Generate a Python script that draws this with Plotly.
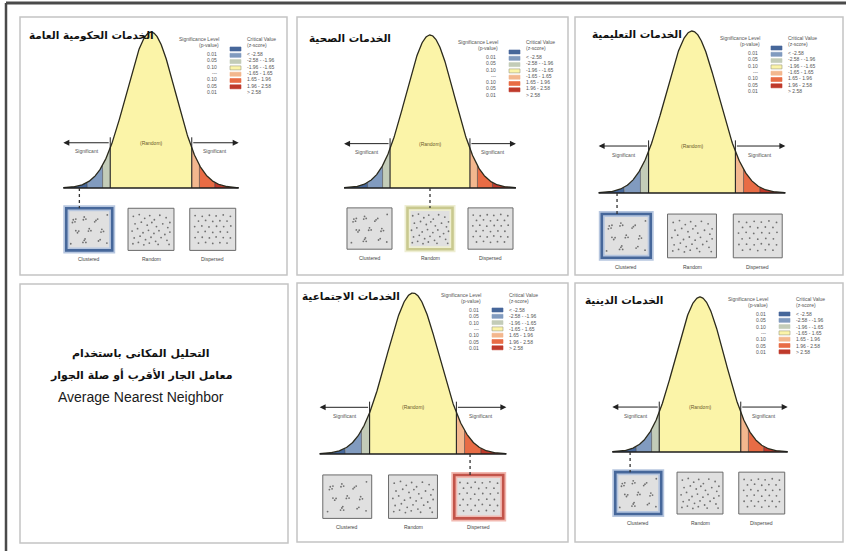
import numpy as np
import plotly.graph_objects as go

W, H = 846, 551

# ---- data -------------------------------------------------------------
# critical z-score breaks of the normal curve and the band colours between them
z_breaks = [-2.58, -1.96, -1.65, 1.65, 1.96, 2.58]
band_colors = ["#46679a", "#819bbf", "#c3ccb8", "#fbf4a8", "#f3b78e", "#e86c45", "#bf3a2b"]
p_labels = ["0.01", "0.05", "0.10", "---", "0.10", "0.05", "0.01"]
z_labels = ["< -2.58", "-2.58 - -1.96", "-1.96 - -1.65", "-1.65 - 1.65",
            "1.65 - 1.96", "1.96 - 2.58", "> 2.58"]
pattern_names = ["Clustered", "Random", "Dispersed"]

# one panel per service type, with the pattern found and its z position
titles = ["الخدمات الحكومية العامة", "الخدمات الصحية", "الخدمات التعليمية",
          "الخدمات الاجتماعية", "الخدمات الدينية"]
results = ["Clustered", "Random", "Clustered", "Dispersed", "Clustered"]
result_z = [-2.9, 0.0, -2.85, 2.17, -2.83]

# sample point patterns (unit square) shown in the three boxes
clustered_u = [0.12, 0.16, 0.10, 0.18, 0.38, 0.42, 0.36, 0.66, 0.70, 0.63, 0.22, 0.18, 0.25,
               0.50, 0.54, 0.48, 0.80, 0.84, 0.78, 0.38, 0.42, 0.35, 0.40, 0.72, 0.76,
               0.93, 0.06, 0.92]
clustered_v = [0.78, 0.72, 0.70, 0.80, 0.86, 0.80, 0.78, 0.76, 0.80, 0.72, 0.40, 0.46, 0.45,
               0.52, 0.46, 0.45, 0.50, 0.44, 0.42, 0.18, 0.12, 0.12, 0.22, 0.16, 0.20,
               0.92, 0.08, 0.10]
random_u = [0.08, 0.22, 0.35, 0.47, 0.58, 0.71, 0.86, 0.95, 0.12, 0.27, 0.41, 0.52, 0.63, 0.78,
            0.90, 0.05, 0.18, 0.31, 0.44, 0.57, 0.69, 0.83, 0.95, 0.10, 0.24, 0.37, 0.50,
            0.61, 0.74, 0.88, 0.07, 0.20, 0.33, 0.46, 0.67, 0.93]
random_v = [0.88, 0.93, 0.82, 0.90, 0.78, 0.91, 0.84, 0.70, 0.66, 0.71, 0.62, 0.70, 0.58, 0.66,
            0.55, 0.45, 0.52, 0.40, 0.47, 0.38, 0.46, 0.35, 0.42, 0.25, 0.30, 0.20, 0.27,
            0.15, 0.26, 0.18, 0.08, 0.12, 0.05, 0.10, 0.06, 0.06]
dispersed_u = [0.08, 0.25, 0.42, 0.58, 0.75, 0.92, 0.16, 0.33, 0.50, 0.67, 0.84,
               0.07, 0.24, 0.41, 0.59, 0.76, 0.93, 0.15, 0.32, 0.50, 0.68, 0.85,
               0.08, 0.25, 0.42, 0.58, 0.75, 0.92, 0.16, 0.33, 0.50, 0.67, 0.84]
dispersed_v = [0.90, 0.88, 0.91, 0.89, 0.92, 0.88, 0.74, 0.76, 0.73, 0.75, 0.74,
               0.58, 0.60, 0.57, 0.59, 0.58, 0.60, 0.42, 0.44, 0.41, 0.43, 0.42,
               0.26, 0.27, 0.25, 0.28, 0.26, 0.25, 0.10, 0.12, 0.09, 0.11, 0.10]
patterns = [(clustered_u, clustered_v), (random_u, random_v), (dispersed_u, dispersed_v)]

intro_lines = ["التحليل المكانى باستخدام", "معامل الجار الأقرب أو صلة الجوار",
               "Average Nearest Neighbor"]

# ---- page geometry (pixels) -------------------------------------------
PANELS = [
    dict(rect=(20, 17, 287, 275), cx=151, sigma=24.7, base=188, peak=32, title_x=27),
    dict(rect=(297, 17, 568, 275), cx=430, sigma=24.2, base=188, peak=35, title_x=307),
    dict(rect=(575, 17, 843, 275), cx=692, sigma=26.3, base=193, peak=31, title_x=590),
    dict(rect=(297, 283, 568, 542), cx=413, sigma=26.3, base=454, peak=293, title_x=300),
    dict(rect=(575, 283, 843, 542), cx=700, sigma=24.7, base=452, peak=297, title_x=583),
]
TEXT_PANEL = (20, 284, 288, 543)
Z_END = 3.55
BOX_CENTERS = [-2.5, 0.0, 2.5]
BOX_HALF = 0.93
BOX_TOP, BOX_BOTTOM = -0.13, -0.40
ARROW_Y = 0.29
FONT = "DejaVu Sans"
SMALL = dict(family="Liberation Sans", size=5, color="#555555")

HIGHLIGHT = {
    "Clustered": ("#46679a", "#b6c6df"),
    "Random": ("#c9c98f", "#eeeed2"),
    "Dispersed": ("#c2544a", "#f2b9b1"),
}


def px(x, y):
    """pixel position -> paper coordinates"""
    return x / W, 1 - y / H


def density(z):
    # standard normal curve, scaled so the peak is 1
    return np.exp(-0.5 * np.asarray(z, dtype=float) ** 2)


fig = go.Figure()
shapes, annotations, axes = [], [], {}

for i, g in enumerate(PANELS):
    sx = "" if i == 0 else str(i + 1)
    xr, yr = f"x{sx}", f"y{sx}"
    l, t, r, b = g["rect"]
    cx, sg, base, peak = g["cx"], g["sigma"], g["base"], g["peak"]
    hgt = base - peak
    axes[f"xaxis{sx}"] = dict(domain=[l / W, r / W], range=[(l - cx) / sg, (r - cx) / sg],
                              visible=False, anchor=yr, fixedrange=True)
    axes[f"yaxis{sx}"] = dict(domain=[1 - b / H, 1 - t / H],
                              range=[(base - b) / hgt, (base - t) / hgt],
                              visible=False, anchor=xr, fixedrange=True)

    # panel frame
    shapes.append(dict(type="rect", xref="paper", yref="paper",
                       x0=px(l, t)[0], y0=px(l, t)[1], x1=px(r, b)[0], y1=px(r, b)[1],
                       line=dict(color="#c4c4c4", width=1.5), layer="below"))

    # coloured bands under the curve
    edges = [-Z_END] + z_breaks + [Z_END]
    for k in range(len(band_colors)):
        zz = np.linspace(edges[k], edges[k + 1], 60)
        fig.add_trace(go.Scatter(
            x=np.concatenate([[edges[k]], zz, [edges[k + 1]]]),
            y=np.concatenate([[0], density(zz), [0]]),
            fill="toself", fillcolor=band_colors[k], mode="lines", line=dict(width=0),
            xaxis=xr, yaxis=yr, hoverinfo="skip", showlegend=False))
    # break lines
    for zb in z_breaks:
        strong = abs(zb) == 1.65
        fig.add_trace(go.Scatter(
            x=[zb, zb], y=[0, float(density(zb))], mode="lines",
            line=dict(color="#222222" if strong else "#3c3c3c", width=1.1 if strong else 0.6),
            xaxis=xr, yaxis=yr, hoverinfo="skip", showlegend=False))
    # outline and baseline
    zc = np.linspace(-Z_END, Z_END, 400)
    fig.add_trace(go.Scatter(x=zc, y=density(zc), mode="lines",
                             line=dict(color="#2b2a1c", width=1.3),
                             xaxis=xr, yaxis=yr, hoverinfo="skip", showlegend=False))
    fig.add_trace(go.Scatter(x=[-Z_END, Z_END], y=[0, 0], mode="lines",
                             line=dict(color="#1e1e1e", width=1.3),
                             xaxis=xr, yaxis=yr, hoverinfo="skip", showlegend=False))

    # significance arrows
    for side in (-1, 1):
        annotations.append(dict(x=side * Z_END, y=ARROW_Y, ax=side * 1.65, ay=ARROW_Y,
                                xref=xr, yref=yr, axref=xr, ayref=yr, text="",
                                showarrow=True, arrowhead=2, arrowsize=1.2, arrowwidth=1,
                                arrowcolor="#222222"))
        shapes.append(dict(type="line", xref=xr, yref=yr, x0=side * 1.65, x1=side * 1.65,
                           y0=ARROW_Y - 0.035, y1=ARROW_Y + 0.035,
                           line=dict(color="#222222", width=1)))
        annotations.append(dict(x=side * 2.6, y=ARROW_Y - 0.055, xref=xr, yref=yr,
                                xanchor="center", text="Significant", showarrow=False,
                                font=SMALL))
    annotations.append(dict(x=0, y=ARROW_Y, xref=xr, yref=yr, text="(Random)",
                            xanchor="center", showarrow=False,
                            font=dict(family="Liberation Sans", size=5, color="#6b5a2a")))

    # pattern boxes
    for j, (c, name) in enumerate(zip(BOX_CENTERS, pattern_names)):
        x0, x1 = c - BOX_HALF, c + BOX_HALF
        if results[i] == name:
            edge, glow = HIGHLIGHT[name]
            shapes.append(dict(type="rect", xref=xr, yref=yr, x0=x0, x1=x1,
                               y0=BOX_BOTTOM, y1=BOX_TOP, fillcolor="#e0e0e0",
                               line=dict(color=glow, width=6), layer="below"))
            shapes.append(dict(type="rect", xref=xr, yref=yr, x0=x0, x1=x1,
                               y0=BOX_BOTTOM, y1=BOX_TOP,
                               line=dict(color=edge, width=2.6)))
        else:
            shapes.append(dict(type="rect", xref=xr, yref=yr, x0=x0, x1=x1,
                               y0=BOX_BOTTOM, y1=BOX_TOP, fillcolor="#e0e0e0",
                               line=dict(color="#6a6a6a", width=1), layer="below"))
        pu, pv = patterns[j]
        pad_x, pad_y = 0.08, 0.025
        fig.add_trace(go.Scatter(
            x=[x0 + pad_x + u * (x1 - x0 - 2 * pad_x) for u in pu],
            y=[BOX_BOTTOM + pad_y + v * (BOX_TOP - BOX_BOTTOM - 2 * pad_y) for v in pv],
            mode="markers", marker=dict(size=1.8, color="#707070"),
            xaxis=xr, yaxis=yr, hoverinfo="skip", showlegend=False))
        annotations.append(dict(x=c, y=BOX_BOTTOM - 0.055, xref=xr, yref=yr, text=name,
                                xanchor="center", showarrow=False,
                                font=dict(family="Liberation Sans", size=5, color="#444444")))

    # dotted connector from the observed z to its pattern box
    shapes.append(dict(type="line", xref=xr, yref=yr, x0=result_z[i], x1=result_z[i],
                       y0=0, y1=BOX_TOP, line=dict(color="#333333", width=1.3, dash="dot")))

    # panel title
    tx, ty = px(g["title_x"], peak + 3)
    annotations.append(dict(x=tx, y=ty, xref="paper", yref="paper", xanchor="left",
                            yanchor="middle", text=f"<b>{titles[i]}</b>", showarrow=False,
                            font=dict(family=FONT, size=10.5, color="#111111")))

    # significance legend
    for line_k, (p_head, z_head) in enumerate([("Significance Level", "Critical Value"),
                                               ("(p-value)", "(z-score)")]):
        hy = peak + 2 + 6 * line_k
        annotations.append(dict(x=px(cx + 70, hy)[0], y=px(cx + 70, hy)[1], xref="paper",
                                yref="paper", xanchor="right", text=p_head,
                                showarrow=False, font=SMALL))
        annotations.append(dict(x=px(cx + 94, hy)[0], y=px(cx + 94, hy)[1], xref="paper",
                                yref="paper", xanchor="left", text=z_head,
                                showarrow=False, font=SMALL))
    for k in range(len(p_labels)):
        ry = peak + 17 + 6.3 * k
        annotations.append(dict(x=px(cx + 68, ry)[0], y=px(cx + 68, ry)[1], xref="paper",
                                yref="paper", xanchor="right", text=p_labels[k],
                                showarrow=False, font=SMALL))
        annotations.append(dict(x=px(cx + 94, ry)[0], y=px(cx + 94, ry)[1], xref="paper",
                                yref="paper", xanchor="left", text=z_labels[k],
                                showarrow=False, font=SMALL))
        a, bb = px(cx + 79, ry - 2), px(cx + 90, ry + 2)
        shapes.append(dict(type="rect", xref="paper", yref="paper", x0=a[0], y0=a[1],
                           x1=bb[0], y1=bb[1], fillcolor=band_colors[k],
                           line=dict(color="#9a9a80" if k == 3 else band_colors[k],
                                     width=0.6)))

# introductory text panel
l, t, r, b = TEXT_PANEL
shapes.append(dict(type="rect", xref="paper", yref="paper",
                   x0=px(l, t)[0], y0=px(l, t)[1], x1=px(r, b)[0], y1=px(r, b)[1],
                   line=dict(color="#c4c4c4", width=1.5), layer="below"))
for k, (txt, yy) in enumerate(zip(intro_lines, [353, 375, 397])):
    fnt = dict(family=FONT, size=11, color="#111111") if k < 2 else \
        dict(family="Liberation Sans", size=14, color="#1a1a1a")
    annotations.append(dict(x=px(141, yy)[0], y=px(141, yy)[1], xref="paper",
                            yref="paper", xanchor="center", yanchor="middle",
                            text=f"<b>{txt}</b>" if k < 2 else txt,
                            showarrow=False, font=fnt))

# outer page border
shapes.append(dict(type="line", xref="paper", yref="paper", x0=px(6, 3)[0], y0=px(6, 3)[1],
                   x1=1, y1=px(846, 3)[1], line=dict(color="#4a4a4a", width=3)))
shapes.append(dict(type="line", xref="paper", yref="paper", x0=px(6, 3)[0], y0=px(6, 3)[1],
                   x1=px(6, 551)[0], y1=0, line=dict(color="#4a4a4a", width=2.5)))

fig.update_layout(width=W, height=H, margin=dict(l=0, r=0, t=0, b=0),
                  paper_bgcolor="white", plot_bgcolor="rgba(0,0,0,0)",
                  shapes=shapes, annotations=annotations, showlegend=False, **axes)
fig.write_html("out.html", config={"displayModeBar": False})
